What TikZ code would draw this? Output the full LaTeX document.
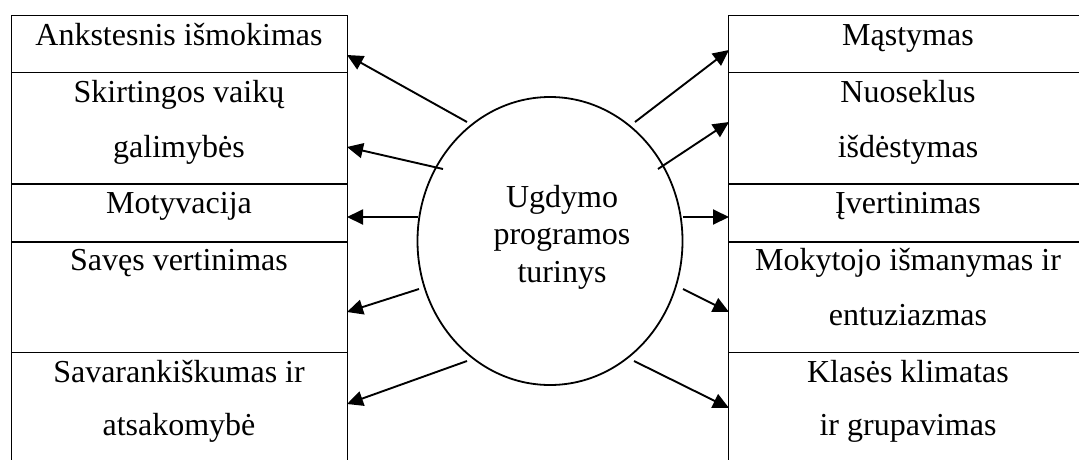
\documentclass[tikz,border=0pt]{standalone}
\usepackage{fontspec}
\setmainfont{Liberation Serif}
\usetikzlibrary{arrows.meta,shapes.geometric}
\begin{document}
\begin{tikzpicture}[x=1pt,y=-1pt,
  cell/.style={draw,line width=1.1pt,inner sep=0pt,anchor=north west},
  lcell/.style={cell,minimum width=336pt},
  rcell/.style={cell,minimum width=360pt},
  lbl/.style={anchor=base,inner sep=0pt,font=\fontsize{32}{37}\selectfont},
  arr/.style={line width=1.9pt,-{Triangle[length=16pt,width=15pt]}}]
\clip (0,0) rectangle (1079,459);

% left column of factors
\node[lcell,minimum height=57pt]  (l1) at (11,15)  {};
\node[lcell,minimum height=111pt] (l2) at (11,72)  {};
\node[lcell,minimum height=57pt]  (l3) at (11,184) {};
\node[lcell,minimum height=110pt] (l4) at (11,242) {};
\node[lcell,minimum height=130pt] (l5) at (11,352) {};

% right column of factors
\node[rcell,minimum height=57pt]  (r1) at (728,15)  {};
\node[rcell,minimum height=111pt] (r2) at (728,72)  {};
\node[rcell,minimum height=57pt]  (r3) at (728,184) {};
\node[rcell,minimum height=110pt] (r4) at (728,242) {};
\node[rcell,minimum height=130pt] (r5) at (728,352) {};

% labels, left
\node[lbl] (tl1)  at (179,45)  {Ankstesnis išmokimas};
\node[lbl] (tl2a) at (179,102) {Skirtingos vaikų};
\node[lbl] (tl2b) at (179,157) {galimybės};
\node[lbl] (tl3)  at (179,213) {Motyvacija};
\node[lbl] (tl4)  at (179,270) {Savęs vertinimas};
\node[lbl] (tl5a) at (179,382) {Savarankiškumas ir};
\node[lbl] (tl5b) at (179,435) {atsakomybė};

% labels, right
\node[lbl] (tr1)  at (908,45)  {Mąstymas};
\node[lbl] (tr2a) at (908,102) {Nuoseklus};
\node[lbl] (tr2b) at (908,157) {išdėstymas};
\node[lbl] (tr3)  at (908,213) {Įvertinimas};
\node[lbl] (tr4a) at (908,270) {Mokytojo išmanymas ir};
\node[lbl] (tr4b) at (908,325) {entuziazmas};
\node[lbl] (tr5a) at (908,382) {Klasės klimatas};
\node[lbl] (tr5b) at (908,435) {ir grupavimas};

% central ellipse
\node[draw,ellipse,line width=1.8pt,minimum width=265pt,minimum height=288pt,inner sep=0pt] (c) at (550,241) {};
\node[lbl] (c1) at (562,207) {Ugdymo};
\node[lbl] (c2) at (562,244) {programos};
\node[lbl] (c3) at (562,282) {turinys};

% arrow ends
\coordinate (sa1) at (467,122); \coordinate (ea1) at (347,55);
\coordinate (sa2) at (443,169); \coordinate (ea2) at (347,147);
\coordinate (sa3) at (418,217); \coordinate (ea3) at (347,217);
\coordinate (sa4) at (419,289); \coordinate (ea4) at (347,312);
\coordinate (sa5) at (467,361); \coordinate (ea5) at (347,404);
\coordinate (sb1) at (635,122); \coordinate (eb1) at (729,50);
\coordinate (sb2) at (658,169); \coordinate (eb2) at (729,122);
\coordinate (sb3) at (683,217); \coordinate (eb3) at (729,217);
\coordinate (sb4) at (683,289); \coordinate (eb4) at (729,312);
\coordinate (sb5) at (634,361); \coordinate (eb5) at (729,408);

\foreach \i in {1,...,5}{
  \draw[arr] (sa\i) -- (ea\i);
  \draw[arr] (sb\i) -- (eb\i);
}
\end{tikzpicture}
\end{document}
